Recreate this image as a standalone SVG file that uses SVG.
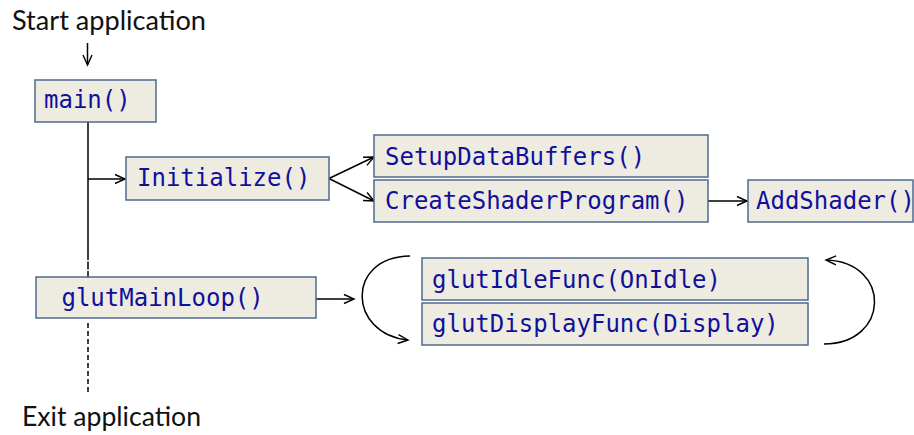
<svg xmlns="http://www.w3.org/2000/svg" width="914" height="435" viewBox="0 0 914 435">
  <style>
    .box { fill: #EEECE1; stroke: #4F6A8F; stroke-width: 1.5; }
    .code { font-family: "DejaVu Sans Mono", "Liberation Mono", monospace; font-size: 24px; fill: #10109C; }
    .label { font-family: Lato, "Open Sans", sans-serif; font-size: 26px; fill: #111111; }
    .wire { fill: none; stroke: #000000; stroke-width: 1.5; }
  </style>
  <defs>
    <marker id="open" markerUnits="userSpaceOnUse" markerWidth="12" markerHeight="10" refX="11" refY="5" orient="auto" overflow="visible">
      <path d="M1,0.5 L11,5 L1,9.5" fill="none" stroke="#000000" stroke-width="1.4"/>
    </marker>
  </defs>

  <rect width="914" height="435" fill="#FFFFFF"/>

  <!-- lifecycle labels -->
  <text class="label" x="12" y="30" textLength="194" lengthAdjust="spacingAndGlyphs">Start application</text>
  <text class="label" x="22" y="426" textLength="179" lengthAdjust="spacingAndGlyphs">Exit application</text>

  <g id="connectors">
    <!-- entry arrow -->
    <line class="wire" x1="87.5" y1="43" x2="87.5" y2="65" stroke-width="1" marker-end="url(#open)"/>
    <!-- main timeline -->
    <line class="wire" x1="88" y1="122" x2="88" y2="252"/>
    <line class="wire" x1="88" y1="252" x2="88" y2="277" stroke-dasharray="8 1.5"/>
    <line class="wire" x1="88" y1="323" x2="88" y2="392" stroke-dasharray="5 3"/>
    <!-- calls -->
    <line class="wire" x1="88" y1="179" x2="125" y2="179" marker-end="url(#open)"/>
    <line class="wire" x1="329" y1="178.5" x2="374" y2="157" marker-end="url(#open)"/>
    <line class="wire" x1="329" y1="178.5" x2="374" y2="201" marker-end="url(#open)"/>
    <line class="wire" x1="708" y1="201" x2="747" y2="201" marker-end="url(#open)"/>
    <line class="wire" x1="316" y1="299" x2="354" y2="299" marker-end="url(#open)"/>
    <!-- event loop -->
    <path class="wire" d="M410,256 C345,257 348,334 408,340" marker-end="url(#open)"/>
    <path class="wire" d="M824,344 C890,344 892,262 826,260" marker-end="url(#open)"/>
  </g>

  <g id="main">
    <rect class="box" x="35" y="80" width="121" height="42"/>
    <text class="code" x="44" y="108">main()</text>
  </g>

  <g id="initialize">
    <rect class="box" x="126" y="157" width="203" height="43"/>
    <text class="code" x="137" y="186">Initialize()</text>
  </g>

  <g id="setup-data-buffers">
    <rect class="box" x="374" y="135" width="334" height="42"/>
    <text class="code" x="385" y="165">SetupDataBuffers()</text>
  </g>

  <g id="create-shader-program">
    <rect class="box" x="374" y="180" width="334" height="42"/>
    <text class="code" x="385" y="209">CreateShaderProgram()</text>
  </g>

  <g id="add-shader">
    <rect class="box" x="748" y="180" width="165" height="42"/>
    <text class="code" x="756" y="209" font-size="23">AddShader()</text>
  </g>

  <g id="glut-main-loop">
    <rect class="box" x="36" y="277" width="280" height="41"/>
    <text class="code" x="47" y="306" xml:space="preserve"> glutMainLoop()</text>
  </g>

  <g id="glut-idle-func">
    <rect class="box" x="422" y="258" width="386" height="42"/>
    <text class="code" x="432" y="288">glutIdleFunc(OnIdle)</text>
  </g>

  <g id="glut-display-func">
    <rect class="box" x="422" y="303" width="386" height="42"/>
    <text class="code" x="432" y="332">glutDisplayFunc(Display)</text>
  </g>
</svg>
